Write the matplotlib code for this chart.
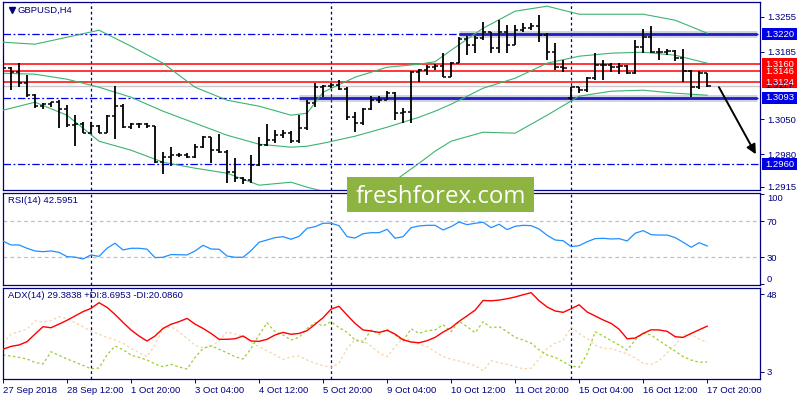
import matplotlib
matplotlib.use("Agg")
import matplotlib.pyplot as plt
from matplotlib.patches import Rectangle
import numpy as np

# GBPUSD H4 bars, 27 Sep 2018 04:00 .. 17 Oct 2018 20:00
opens = [1.3175, 1.3152, 1.3144, 1.3122, 1.3098, 1.3076, 1.3080, 1.3084, 1.3070, 1.3038,
         1.3040, 1.3022, 1.3036, 1.3022, 1.3056, 1.3076, 1.3034, 1.3040, 1.3040, 1.3036,
         1.2964, 1.2974, 1.2978, 1.2978, 1.2974, 1.2994, 1.3014, 1.2988, 1.2984, 1.2944,
         1.2932, 1.2928, 1.2958, 1.2998, 1.3008, 1.3018, 1.3022, 1.3006, 1.3032, 1.3082,
         1.3114, 1.3116, 1.3118, 1.3110, 1.3054, 1.3042, 1.3070, 1.3088, 1.3088, 1.3102,
         1.3062, 1.3064, 1.3144, 1.3148, 1.3154, 1.3156, 1.3134, 1.3162, 1.3210, 1.3198,
         1.3212, 1.3224, 1.3193, 1.3224, 1.3198, 1.3228, 1.3232, 1.3236, 1.3218, 1.3184,
         1.3154, 1.3092, 1.3114, 1.3108, 1.3132, 1.3158, 1.3158, 1.3154, 1.3156, 1.3142,
         1.3194, 1.3214, 1.3184, 1.3184, 1.3186, 1.3172, 1.3146, 1.3114, 1.3142]
highs = [1.3178, 1.3154, 1.3162, 1.3138, 1.3100, 1.3082, 1.3084, 1.3088, 1.3078, 1.3058,
         1.3044, 1.3044, 1.3038, 1.3058, 1.3116, 1.3080, 1.3042, 1.3042, 1.3042, 1.3036,
         1.2984, 1.2994, 1.2982, 1.2982, 1.3000, 1.3016, 1.3014, 1.3020, 1.2988, 1.2972,
         1.2934, 1.2978, 1.3014, 1.3040, 1.3028, 1.3028, 1.3026, 1.3058, 1.3088, 1.3122,
         1.3118, 1.3122, 1.3128, 1.3114, 1.3064, 1.3072, 1.3096, 1.3096, 1.3106, 1.3104,
         1.3072, 1.3146, 1.3150, 1.3158, 1.3160, 1.3182, 1.3164, 1.3214, 1.3216, 1.3216,
         1.3244, 1.3224, 1.3248, 1.3238, 1.3238, 1.3242, 1.3242, 1.3258, 1.3222, 1.3202,
         1.3168, 1.3114, 1.3114, 1.3134, 1.3182, 1.3168, 1.3162, 1.3162, 1.3158, 1.3208,
         1.3230, 1.3236, 1.3192, 1.3190, 1.3188, 1.3190, 1.3148, 1.3146, 1.3142]
lows = [1.3138, 1.3108, 1.3114, 1.3094, 1.3072, 1.3070, 1.3074, 1.3032, 1.3034, 1.2996,
        1.3022, 1.3022, 1.3022, 1.3022, 1.3010, 1.3032, 1.3030, 1.3032, 1.3032, 1.2962,
        1.2940, 1.2956, 1.2974, 1.2972, 1.2972, 1.2992, 1.2962, 1.2982, 1.2922, 1.2924,
        1.2920, 1.2922, 1.2956, 1.2996, 1.3002, 1.3012, 1.3002, 1.3002, 1.3028, 1.3074,
        1.3094, 1.3112, 1.3108, 1.3048, 1.3024, 1.3038, 1.3068, 1.3082, 1.3088, 1.3048,
        1.3042, 1.3042, 1.3124, 1.3138, 1.3148, 1.3134, 1.3134, 1.3162, 1.3178, 1.3182,
        1.3208, 1.3182, 1.3182, 1.3182, 1.3198, 1.3224, 1.3228, 1.3204, 1.3168, 1.3148,
        1.3144, 1.3088, 1.3102, 1.3104, 1.3128, 1.3128, 1.3144, 1.3140, 1.3140, 1.3140,
        1.3182, 1.3182, 1.3168, 1.3178, 1.3166, 1.3124, 1.3094, 1.3110, 1.3114]
closes = [1.3152, 1.3144, 1.3122, 1.3098, 1.3076, 1.3080, 1.3084, 1.3070, 1.3038, 1.3040,
          1.3022, 1.3036, 1.3022, 1.3056, 1.3076, 1.3034, 1.3040, 1.3040, 1.3036, 1.2964,
          1.2974, 1.2978, 1.2978, 1.2974, 1.2994, 1.3014, 1.2988, 1.2984, 1.2944, 1.2932,
          1.2928, 1.2958, 1.2998, 1.3008, 1.3018, 1.3022, 1.3006, 1.3032, 1.3082, 1.3114,
          1.3116, 1.3118, 1.3110, 1.3054, 1.3042, 1.3070, 1.3088, 1.3088, 1.3102, 1.3062,
          1.3064, 1.3144, 1.3148, 1.3154, 1.3156, 1.3134, 1.3162, 1.3210, 1.3198, 1.3212,
          1.3224, 1.3193, 1.3224, 1.3198, 1.3228, 1.3232, 1.3236, 1.3218, 1.3184, 1.3154,
          1.3152, 1.3114, 1.3108, 1.3132, 1.3158, 1.3158, 1.3154, 1.3156, 1.3142, 1.3194,
          1.3214, 1.3184, 1.3184, 1.3186, 1.3172, 1.3146, 1.3114, 1.3142, 1.3117]

# Bollinger bands (read at these bar indices)
bb_idx = [0, 4, 8, 12, 16, 20, 24, 28, 32, 36, 38, 40, 44, 48, 52, 54, 56, 60, 64, 68, 72, 76, 80, 84, 88]
bb_upper = [1.3204, 1.3200, 1.3214, 1.3228, 1.3196, 1.3162, 1.3114, 1.3088, 1.3076, 1.3058, 1.3062, 1.3104,
            1.3134, 1.3154, 1.3160, 1.3165, 1.3188, 1.3232, 1.3266, 1.3276, 1.3260, 1.3260, 1.3260, 1.3248, 1.3222]
bb_mid = [1.3142, 1.3140, 1.3130, 1.3114, 1.3094, 1.3066, 1.3042, 1.3018, 1.3000, 1.2994, 1.2996, 1.3002,
          1.3016, 1.3034, 1.3054, 1.3066, 1.3080, 1.3112, 1.3132, 1.3162, 1.3176, 1.3182, 1.3184, 1.3178, 1.3162]
bb_lower = [1.3068, 1.3084, 1.3058, 1.3006, 1.2988, 1.2964, 1.2952, 1.2942, 1.2918, 1.2924, 1.2914, 1.2906,
            1.2896, 1.2916, 1.2962, 1.2986, 1.3006, 1.3024, 1.3022, 1.3058, 1.3096, 1.3106, 1.3108, 1.3102, 1.3098]

rsi = [48.0, 43.7, 43.7, 40.0, 37.0, 36.2, 37.0, 35.5, 30.7, 30.2, 28.1, 32.6, 31.0, 40.0, 45.6, 38.1,
       40.0, 40.0, 39.0, 29.6, 30.0, 33.0, 32.8, 32.6, 37.0,
       43.3, 39.2, 38.9, 31.4, 30.0, 30.0, 37.4, 46.7, 49.2, 51.8, 52.9, 50.0, 53.3, 62.2, 64.0, 67.8,
       67.8, 65.1, 52.9, 51.4, 56.2, 57.3, 57.3, 61.1, 51.1, 52.9, 62.9, 64.8, 65.5, 65.5, 60.3, 64.0,
       69.2, 66.2, 67.8, 68.9, 62.9, 66.7, 60.7, 64.4, 65.5, 65.1, 61.4, 54.4, 49.2, 48.4, 41.8, 42.9,
       47.3, 50.7,
       51.1, 50.3, 50.7, 48.1, 56.7, 59.6, 55.1, 54.7, 54.7, 51.8, 46.7, 41.1, 46.2, 42.6]

adx = [16.0, 17.7, 18.5, 20.4, 24.8, 29.1, 28.5, 30.6, 32.8, 35.3, 37.8, 39.7, 43.0, 40.3, 36.2, 31.6,
       27.2, 23.7, 20.8, 23.7, 28.1, 30.5, 32.0, 33.9, 30.6, 28.1, 25.2, 21.8, 21.8, 22.1, 23.7, 20.8,
       20.6, 21.8, 24.3, 25.8, 24.7, 25.2,
       26.8, 30.5, 34.3, 39.3, 40.9, 35.8, 31.0, 27.2, 26.6, 25.8, 27.0, 24.8, 21.5, 20.2, 19.8, 21.0,
       22.9, 26.0, 28.5, 32.2, 35.4, 38.7, 44.3, 44.1, 44.5, 45.3, 46.3, 47.6, 48.8, 44.1, 40.5, 38.2,
       37.4, 39.5, 41.8, 37.6, 35.3, 33.0, 31.0, 27.6, 22.1, 22.5, 25.2, 27.3, 27.2, 26.4, 23.3, 22.9,
       25.2, 27.3, 29.4]
plus_di = [12.7, 12.1, 11.3, 10.4, 8.4, 7.5, 14.6, 12.5, 10.4, 8.6, 6.7, 4.7, 5.2, 12.7, 17.9, 15.8,
           12.7, 11.3, 9.8, 7.5, 5.9, 7.3, 5.7, 4.6, 11.3, 16.5, 18.1, 16.0, 14.0, 11.7, 10.4, 16.5,
           24.3, 31.4, 26.2, 24.3, 21.4, 22.9,
           28.1, 31.4, 29.5, 32.0, 28.5, 25.8, 21.4, 20.0, 27.2, 24.7, 27.6, 24.3, 20.8, 27.9, 25.2, 26.8,
           27.2, 30.2, 26.2, 32.2, 29.1, 25.6, 32.0, 28.5, 29.1, 26.2, 22.9, 21.4, 19.5, 15.6, 12.7, 11.3,
           8.8, 6.3, 5.6, 13.3, 26.2, 23.7, 21.0, 18.5, 15.6, 21.4, 25.2, 24.3, 21.0, 17.9, 15.0, 11.7,
           9.8, 8.5, 8.7]
minus_di = [19.5, 24.8, 26.2, 27.7, 32.5, 31.8, 32.5, 34.9, 33.9, 31.4, 29.1, 26.6, 24.7, 22.9, 21.4, 19.5,
            16.5, 14.0, 11.7, 18.5, 28.1, 29.1, 26.2, 22.3, 18.3, 16.9, 17.5, 20.8, 26.2, 24.8, 23.7, 20.0,
            17.5, 15.2, 12.7, 10.2, 11.7, 12.1,
            9.8, 7.9, 6.5, 5.6, 7.9, 16.5, 21.8, 21.0, 17.9, 14.0, 11.7, 17.5, 22.3, 21.0, 19.0, 17.5,
            14.6, 11.7, 10.2, 9.2, 7.9, 6.5, 3.6, 9.4, 8.2, 7.3, 5.9, 4.7, 5.0, 10.4, 16.5, 19.5,
            21.2, 28.7, 25.2, 22.3, 18.5, 16.5, 16.5, 14.8, 13.4, 11.0, 7.9, 7.3, 9.4, 14.0, 18.5, 24.3,
            24.7, 21.9, 20.1]

tick_idx = [0, 8, 16, 24, 32, 40, 48, 56, 64, 72, 80, 88]
tick_labels = ["27 Sep 2018", "28 Sep 12:00", "1 Oct 20:00", "3 Oct 04:00", "4 Oct 12:00",
               "5 Oct 20:00", "9 Oct 04:00", "10 Oct 12:00", "11 Oct 20:00", "15 Oct 04:00",
               "16 Oct 12:00", "17 Oct 20:00"]
week_starts = [11, 41, 71]

red_levels = [1.3160, 1.3146, 1.3124]
blue_levels = [1.3220, 1.3093, 1.2960]
thick_levels = [1.3220, 1.3093]
thick_from = [57, 37]
bid = 1.3117
price_ticks = [1.3255, 1.3185, 1.3050, 1.2980, 1.2915]

navy = '#000080'
band_green = '#3CB371'
plt.rcParams['font.family'] = ['Liberation Sans', 'DejaVu Sans']
fs = 6.8

W, H = 800.0, 400.0
def frame(x0, y0, x1, y1):
    return [x0 / W, 1 - y1 / H, (x1 - x0) / W, (y1 - y0) / H]

fig = plt.figure(figsize=(8, 4), dpi=100)
ax = fig.add_axes(frame(2.5, 2, 760, 190))
ax_rsi = fig.add_axes(frame(2.5, 193, 760, 285))
ax_adx = fig.add_axes(frame(2.5, 287.5, 760, 379))

n = len(closes)
idx = np.arange(n)
xmax = 94.6

for a in (ax, ax_rsi, ax_adx):
    a.set_xlim(-0.06, xmax)
    for s in a.spines.values():
        s.set_color(navy)
        s.set_linewidth(0.9)
    a.yaxis.tick_right()
    a.tick_params(axis='y', length=3, width=0.7, color=navy, labelcolor=navy, labelsize=fs, pad=2)
    a.tick_params(axis='x', length=0)
    for w in week_starts:
        a.axvline(w, color=navy, lw=0.9, dashes=(2.2, 2.2), zorder=1)
ax.set_xticks([])
ax_rsi.set_xticks([])

# ---- main price panel
ax.set_ylim(1.29084, 1.32844)
ax.set_yticks(price_ticks)
ax.set_yticklabels(["%.4f" % p for p in price_ticks])

for lvl in blue_levels:
    ax.axhline(lvl, color='#0000ee', lw=0.9, dashes=(6, 2, 1.5, 2), zorder=2)
for lvl, start in zip(thick_levels, thick_from):
    ax.hlines(lvl, start, 94.25, color='#8080a0', lw=5, alpha=0.35, zorder=2)
    ax.hlines(lvl, start, 94.25, color='#1e1ec8', lw=2, zorder=2)
ax.axhline(bid, color='#c8c8c8', lw=1, zorder=2)
for lvl in red_levels:
    ax.axhline(lvl, color='red', lw=1.1, zorder=2)

ax.plot(bb_idx, bb_upper, color=band_green, lw=0.8, zorder=3)
ax.plot(bb_idx, bb_mid, color=band_green, lw=0.8, zorder=3)
ax.plot(bb_idx, bb_lower, color=band_green, lw=0.8, zorder=3)

ax.vlines(idx, lows, highs, color='black', lw=1.3, zorder=4)
ax.hlines(opens, idx - 0.42, idx, color='black', lw=1.1, zorder=4)
ax.hlines(closes, idx, idx + 0.42, color='black', lw=1.1, zorder=4)

ax.annotate('', xy=(94.25, 1.2975), xytext=(89.3, 1.3119),
            arrowprops=dict(arrowstyle='-|>', color='black', lw=1.4, mutation_scale=14), zorder=5)

# price label boxes on the right scale
def price_box(p, face, txtcolor='white'):
    tr = ax.get_yaxis_transform()
    ax.add_patch(Rectangle((1.0026, p - 0.0012), 0.0462, 0.0024, transform=tr,
                           facecolor=face, edgecolor='none', clip_on=False, zorder=6))
    ax.text(1.0257, p, "%.4f" % p, transform=tr, ha='center', va='center',
            color=txtcolor, fontsize=fs, clip_on=False, zorder=7)

price_box(bid, 'white', navy)
price_box(1.3146, 'red')
price_box(1.3160, 'red')
price_box(1.3124, 'red')
for lvl in blue_levels:
    price_box(lvl, '#0000e6')

fig.text(18 / W, 1 - 10.5 / H, "GBPUSD,H4", color=navy, fontsize=fs, va='center')
ax.plot([0.0125], [0.955], marker='v', ms=4, color=navy, transform=ax.transAxes, clip_on=False)

# ---- RSI panel
ax_rsi.set_ylim(-0.8, 101.4)
for lv in (70, 30):
    ax_rsi.axhline(lv, color='#c0c0c0', lw=0.9, dashes=(3, 2.5), zorder=1)
ax_rsi.plot(idx, rsi, color='#1e90ff', lw=0.9, zorder=3)
ax_rsi.set_yticks([100, 70, 30, 0])
ax_rsi.set_yticklabels(["100", "70", "30", "0"])
labs = ax_rsi.get_yticklabels()
labs[0].set_va('top')
labs[3].set_va('bottom')
fig.text(8 / W, 1 - 201 / H, "RSI(14) 42.5951", color=navy, fontsize=fs, va='center')

# ---- ADX panel
ax_adx.set_ylim(-1.2, 51.8)
ax_adx.plot(idx, minus_di, color='#f5d5a8', lw=0.9, dashes=(2, 2), zorder=2)
ax_adx.plot(idx, plus_di, color='#9acd32', lw=0.9, dashes=(2, 2), zorder=2)
ax_adx.plot(idx, adx, color='red', lw=1.0, zorder=3)
ax_adx.set_yticks([48, 3])
ax_adx.set_yticklabels(["48", "3"])
ax_adx.set_xticks(tick_idx)
ax_adx.set_xticklabels(tick_labels, ha='left')
ax_adx.tick_params(axis='x', length=3, width=0.7, color=navy, labelcolor=navy, labelsize=fs, pad=2)
fig.text(8 / W, 1 - 296 / H, "ADX(14) 29.3838 +DI:8.6953 -DI:20.0860", color=navy, fontsize=fs, va='center')

# watermark
fig.patches.append(Rectangle((347 / W, 1 - 212 / H), 187 / W, 35 / H, transform=fig.transFigure,
                             facecolor='#8db441', edgecolor='none', zorder=20))
fig.text(441 / W, 1 - 203 / H, "freshforex.com", color='white', fontsize=17.3,
         family='Open Sans', ha='center', va='baseline', zorder=21)

fig.savefig("out.png", dpi=100)
